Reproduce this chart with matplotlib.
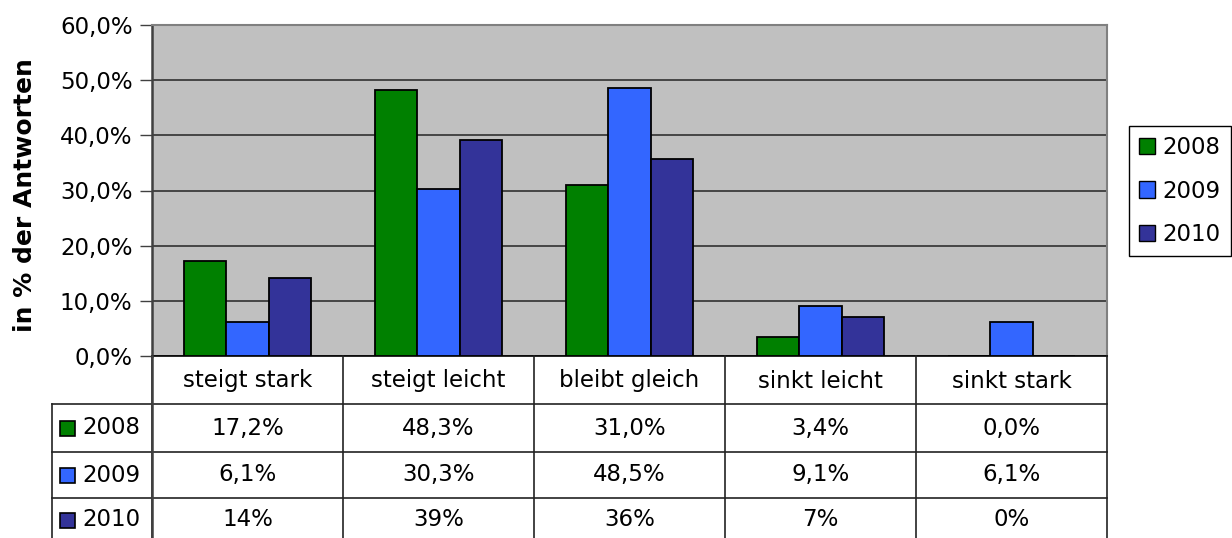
import numpy as np
import matplotlib
matplotlib.use("Agg")
import matplotlib.pyplot as plt
from matplotlib.patches import Rectangle, Patch
from matplotlib.transforms import blended_transform_factory

# Daten
kategorien = ['steigt stark', 'steigt leicht', 'bleibt gleich', 'sinkt leicht', 'sinkt stark']
jahre = ['2008', '2009', '2010']
w2008 = [17.2, 48.3, 31.0, 3.4, 0.0]
w2009 = [6.1, 30.3, 48.5, 9.1, 6.1]
w2010 = [14.2, 39.2, 35.8, 7.1, 0.0]
farben = ['#008000', '#3366FF', '#333399']
# Nachkommastellen in der Tabelle je Jahr
stellen = [1, 1, 0]

plt.rcParams['font.family'] = ['DejaVu Sans']
fs = 16.5
W, H = 1232, 538
fig = plt.figure(figsize=(W / 100, H / 100), dpi=100)

# Diagrammfläche
ax = fig.add_axes([152 / W, (H - 356) / H, (1107 - 152) / W, (356 - 25) / H])
ax.set_facecolor('#C0C0C0')
x = np.arange(len(kategorien))
bw = 1 / 4.5
for k, werte in enumerate([w2008, w2009, w2010]):
    ax.bar(x + (k - 1) * bw, werte, bw, color=farben[k], edgecolor='black',
           linewidth=1.3, zorder=3)
ax.set_xlim(-0.5, len(kategorien) - 0.5)
ax.set_ylim(0, 60)
ax.set_yticks(np.arange(0, 61, 10))
ax.set_yticklabels([f'{v:.1f}%'.replace('.', ',') for v in np.arange(0, 61, 10)], fontsize=fs)
ax.yaxis.grid(True, color='#303030', linewidth=1.2, zorder=1)
ax.set_xticks([])
ax.tick_params(axis='y', direction='out', length=9, width=1, color='#404040', pad=5)
ax.spines['left'].set_color('#404040')
ax.spines['left'].set_linewidth(1.8)
ax.spines['bottom'].set_color('black')
ax.spines['bottom'].set_linewidth(1.2)
for s in ['top', 'right']:
    ax.spines[s].set_color('#808080')
    ax.spines[s].set_linewidth(1.5)
ax.set_ylabel('in % der Antworten', fontsize=18, fontweight='bold')
ax.yaxis.set_label_coords(-0.1204, 0.486)

# Datentabelle (Pixelkoordinaten)
tax = fig.add_axes([0, 0, 1, 1], facecolor='none')
tax.set_xlim(0, W)
tax.set_ylim(H, 0)
tax.axis('off')
tr = blended_transform_factory(ax.transData, tax.transData)

lc = '#222222'
for i in range(len(kategorien) + 1):
    tax.plot([i - 0.5, i - 0.5], [356, H], color=lc, lw=1.2, transform=tr)
for yy in [404, 452, 498]:
    tax.plot([52, 1107], [yy, yy], color=lc, lw=1.2)
tax.plot([52, 52], [404, H], color=lc, lw=1.2)
tax.plot([152, 152], [356, H], color='#404040', lw=1.8)

for i, kat in enumerate(kategorien):
    tax.text(i, 381, kat, ha='center', va='center', fontsize=fs, transform=tr)

zeilen_y = [428, 475, 520]
for k, werte in enumerate([w2008, w2009, w2010]):
    y = zeilen_y[k]
    tax.add_patch(Rectangle((60, y - 7.5), 15, 15, facecolor=farben[k],
                            edgecolor='black', lw=1.2))
    tax.text(82, y, jahre[k], ha='left', va='center', fontsize=fs)
    for i, v in enumerate(werte):
        txt = f'{v:.{stellen[k]}f}%'.replace('.', ',')
        tax.text(i, y, txt, ha='center', va='center', fontsize=fs, transform=tr)

# Legende
handles = [Patch(facecolor=farben[k], edgecolor='black', label=jahre[k]) for k in range(3)]
leg = fig.legend(handles=handles, loc='center left',
                 bbox_to_anchor=(1129 / W, (H - 191) / H), fontsize=fs,
                 frameon=True, fancybox=False, edgecolor='black', framealpha=1,
                 handlelength=0.7, handleheight=0.7, handletextpad=0.3,
                 labelspacing=0.9, borderpad=0.45, borderaxespad=0)
leg.get_frame().set_linewidth(1.0)

fig.savefig('out.png', dpi=100)
